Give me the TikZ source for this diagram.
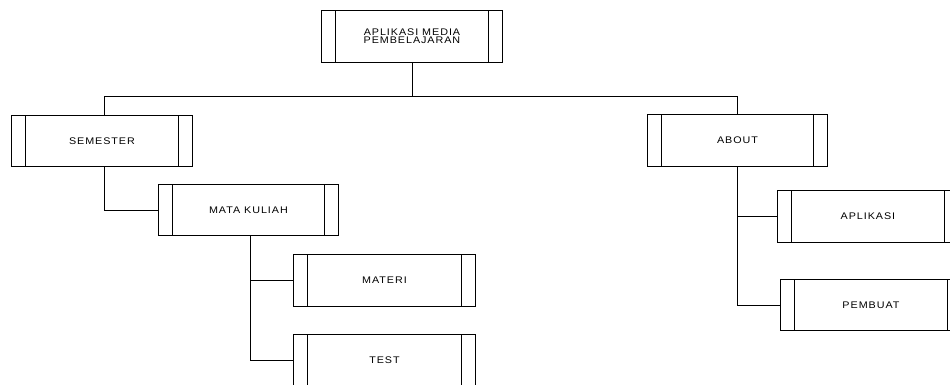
\documentclass[tikz,border=0pt]{standalone}
\usepackage{fontspec}
\newfontfamily\lblfont[LetterSpace=10,FakeStretch=1.12]{Liberation Sans}
\tikzset{
  proc/.style={draw=black, line width=0.9pt, fill=white, anchor=north west,
    inner sep=0pt, align=center,
    font=\lblfont\fontsize{9.6}{8.2}\selectfont,
    minimum width=#1,
    path picture={
      \draw[line width=0.9pt]
        ([xshift=14pt]path picture bounding box.north west) --
        ([xshift=14pt]path picture bounding box.south west)
        ([xshift=-14pt]path picture bounding box.north east) --
        ([xshift=-14pt]path picture bounding box.south east);
    }},
  link/.style={draw=black, line width=0.9pt}
}
\begin{document}
\begin{tikzpicture}[x=1pt,y=-1pt]
\useasboundingbox (0,0) rectangle (950,384);

% boxes
\node[proc=181pt, minimum height=52pt] (top) at (321,10) {APLIKASI MEDIA\\PEMBELAJARAN};
\node[proc=181pt, minimum height=51pt] (sem) at (11,115) {SEMESTER};
\node[proc=180pt, minimum height=51pt] (mk) at (158,184) {MATA KULIAH};
\node[proc=182pt, minimum height=52pt] (mat) at (293,254) {MATERI};
\node[proc=182pt, minimum height=52pt] (tst) at (293,334) {TEST};
\node[proc=180pt, minimum height=52pt] (abt) at (647,114) {ABOUT};
\node[proc=181pt, minimum height=52pt] (apl) at (777,190) {APLIKASI};
\node[proc=181pt, minimum height=51pt] (pmb) at (780,279) {PEMBUAT};

% connectors
\coordinate (bus) at ([yshift=-34pt]top.south);
\draw[link] (top.south) -- (bus);
\draw[link] ([xshift=2.5pt]sem.north) |- (bus) -| (abt.north);
\draw[link] ([xshift=2.5pt]sem.south) |- (mk.west);
\draw[link] ([xshift=2pt]mk.south) |- (mat.west);
\draw[link] ([xshift=2pt]mk.south) |- (tst.west);
\draw[link] (abt.south) |- (apl.west);
\draw[link] (abt.south) |- (pmb.west);
\end{tikzpicture}
\end{document}
